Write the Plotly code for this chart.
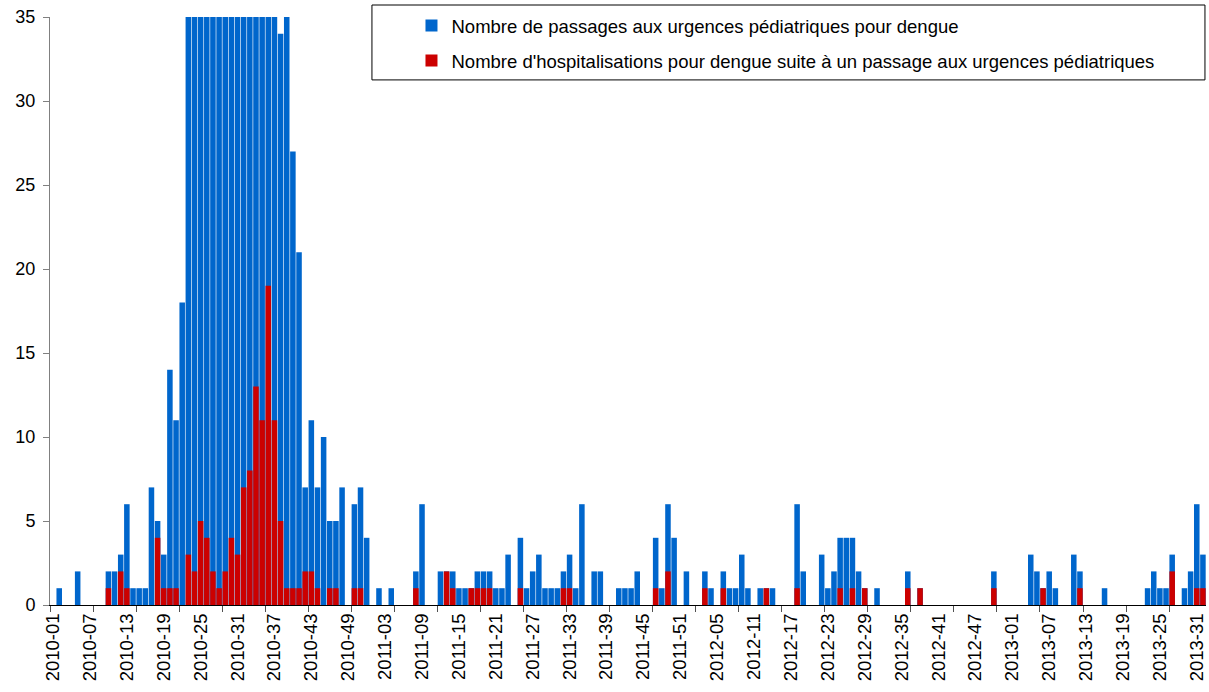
import plotly.graph_objects as go

# ---- categories (ISO weeks) ----
years = [2010, 2011, 2012, 2013]
weeks_per_year = [52, 52, 52, 32]
weeks = [f"{y}-{w:02d}" for y, n in zip(years, weeks_per_year) for w in range(1, n + 1)]

# ---- series values (weekly counts) ----
passages_2010 = [0, 1, 0, 0, 2, 0, 0, 0, 0, 2,
                 2, 3, 6, 1, 1, 1, 7, 5, 3, 14,
                 11, 18, 41, 47, 55, 62, 66, 71, 74, 78,
                 80, 77, 72, 64, 57, 50, 42, 34, 36, 27,
                 21, 7, 11, 7, 10, 5, 5, 7, 0, 6,
                 7, 4]
passages_2011 = [0, 1, 0, 1, 0, 0, 0, 2, 6, 0,
                 0, 2, 2, 2, 1, 1, 1, 2, 2, 2,
                 1, 1, 3, 0, 4, 1, 2, 3, 1, 1,
                 1, 2, 3, 1, 6, 0, 2, 2, 0, 0,
                 1, 1, 1, 2, 0, 0, 4, 1, 6, 4,
                 0, 2]
passages_2012 = [0, 0, 2, 1, 0, 2, 1, 1, 3, 1,
                 0, 1, 1, 1, 0, 0, 0, 6, 2, 0,
                 0, 3, 1, 2, 4, 4, 4, 2, 1, 0,
                 1, 0, 0, 0, 0, 2, 0, 1, 0, 0,
                 0, 0, 0, 0, 0, 0, 0, 0, 0, 2,
                 0, 0]
passages_2013 = [0, 0, 0, 3, 2, 1, 2, 1, 0, 0,
                 3, 2, 0, 0, 0, 1, 0, 0, 0, 0,
                 0, 0, 1, 2, 1, 1, 3, 0, 1, 2,
                 6, 3]

hosp_2010 = [0, 0, 0, 0, 0, 0, 0, 0, 0, 1,
             0, 2, 1, 0, 0, 0, 0, 4, 1, 1,
             1, 0, 3, 2, 5, 4, 2, 1, 2, 4,
             3, 7, 8, 13, 11, 19, 11, 5, 1, 1,
             1, 2, 2, 1, 0, 1, 1, 0, 0, 1,
             1, 0]
hosp_2011 = [0, 0, 0, 0, 0, 0, 0, 1, 0, 0,
             0, 0, 2, 1, 0, 0, 1, 1, 1, 1,
             0, 0, 0, 0, 1, 0, 0, 0, 0, 0,
             0, 1, 1, 0, 0, 0, 0, 0, 0, 0,
             0, 0, 0, 0, 0, 0, 1, 0, 2, 0,
             0, 0]
hosp_2012 = [0, 0, 1, 0, 0, 1, 0, 0, 0, 0,
             0, 0, 1, 0, 0, 0, 0, 1, 0, 0,
             0, 0, 0, 0, 1, 0, 1, 0, 1, 0,
             0, 0, 0, 0, 0, 1, 0, 1, 0, 0,
             0, 0, 0, 0, 0, 0, 0, 0, 0, 1,
             0, 0]
hosp_2013 = [0, 0, 0, 0, 0, 1, 0, 0, 0, 0,
             0, 1, 0, 0, 0, 0, 0, 0, 0, 0,
             0, 0, 0, 0, 0, 0, 2, 0, 0, 0,
             1, 1]

passages = passages_2010 + passages_2011 + passages_2012 + passages_2013
hospitalisations = hosp_2010 + hosp_2011 + hosp_2012 + hosp_2013

name_passages = "Nombre de passages aux urgences pédiatriques pour dengue"
name_hosp = "Nombre d'hospitalisations pour dengue suite à un passage aux urgences pédiatriques"

n = len(weeks)
xpos = list(range(n))

fig = go.Figure()
fig.add_trace(go.Bar(x=xpos, y=passages, name=name_passages, legendgroup="a",
                     marker=dict(color="#0066CC", line=dict(width=0))))
fig.add_trace(go.Bar(x=xpos, y=hospitalisations, name=name_hosp, legendgroup="b",
                     marker=dict(color="#CC0000", line=dict(width=0))))

label_idx = list(range(0, n, 6))
fig.update_layout(
    width=1209, height=692,
    margin=dict(l=50, r=3, t=17, b=87, autoexpand=False),
    barmode="overlay", bargap=0.1,
    plot_bgcolor="white", paper_bgcolor="white",
    font=dict(family="Liberation Sans, Arial, sans-serif", size=18, color="black"),
    showlegend=True,
    legend=dict(x=0.3127, xanchor="left", y=1.017, yanchor="top",
                bgcolor="rgba(0,0,0,0)", borderwidth=0,
                font=dict(size=18.5), tracegroupgap=8, traceorder="grouped"),
    shapes=[dict(type="rect", xref="paper", yref="paper",
                 x0=0.2785, x1=0.9991, y0=0.893, y1=1.0204,
                 line=dict(color="black", width=1), fillcolor="white", layer="above")],
    xaxis=dict(range=[-0.5, n - 0.5], tickmode="array",
               tickvals=label_idx, ticktext=[weeks[i] for i in label_idx],
               tickangle=-90, ticks="", showgrid=False, zeroline=False,
               showline=True, linecolor="black", linewidth=1,
               tickfont=dict(size=18.5), automargin=False,
               minor=dict(tickmode="array", tickvals=[k - 0.5 for k in range(0, n + 1, 7)],
                          ticks="outside", ticklen=6, tickcolor="#505050", tickwidth=1,
                          showgrid=False)),
    yaxis=dict(range=[0, 35], dtick=5, tick0=0, ticks="outside", ticklen=6,
               tickcolor="#808080", showline=True, linecolor="#808080", linewidth=1,
               showgrid=False, zeroline=False, tickfont=dict(size=18),
               ticklabelstandoff=4, automargin=False),
)

fig.write_html("out.html",
               config={"displayModeBar": False},
               post_script="document.body.style.margin='0';document.body.style.overflow='hidden';")
